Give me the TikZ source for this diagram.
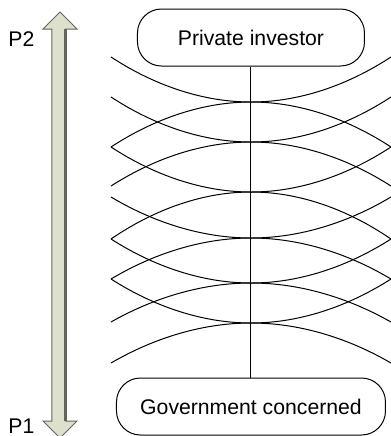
\documentclass[tikz,border=0pt]{standalone}
\usepackage{fontspec}
\setmainfont{Liberation Sans}
\usetikzlibrary{positioning}
\definecolor{scaleFill}{RGB}{221,224,205}
\definecolor{scaleEdge}{RGB}{100,101,92}

\begin{document}
\begin{tikzpicture}[x=0.5pt,y=-0.5pt,
        party/.style={draw, line width=0.5pt, rounded corners=12pt, minimum height=28.5pt, inner sep=0pt, font=\fontsize{10.6}{12.7}\selectfont},
        tag/.style={inner sep=0pt, font=\fontsize{10.6}{12.7}\selectfont},
        band/.style={line width=0.5pt}]
            \useasboundingbox (0,0) rectangle (391,436);
            \node[party, minimum width=113.5pt] (inv) at (251,37.5) {Private investor};
            \node[party, minimum width=134.5pt] (gov) at (251,406.5) {Government concerned};
            \draw[line width=0.5pt] (inv.south) -- (gov.north);

            \draw[band] (111,57) parabola bend (251,102) (391,57);
            \draw[band] (111,97) parabola bend (251,142) (391,97);
            \draw[band] (111,147) parabola bend (251,192) (391,147);
            \draw[band] (111,197) parabola bend (251,238) (391,197);
            \draw[band] (111,239) parabola bend (251,283) (391,239);
            \draw[band] (111,279) parabola bend (251,323) (391,279);

            \draw[band] (111,147) parabola bend (251,102) (391,147);
            \draw[band] (111,186) parabola bend (251,142) (391,186);
            \draw[band] (111,239) parabola bend (251,192) (391,239);
            \draw[band] (111,279) parabola bend (251,238) (391,279);
            \draw[band] (111,322) parabola bend (251,283) (391,322);
            \draw[band] (111,363) parabola bend (251,323) (391,363);

            \draw[fill=scaleFill, draw=scaleEdge, line width=0.5pt] (60,12) -- (77,29) -- (66,29) -- (66,421) -- (77,421) -- (60,438) -- (43,421) -- (52,421) -- (52,29) -- (43,29) -- cycle;
            \draw[scaleEdge, line width=1.1pt] (65.5,29) -- (65.5,421);
            \node[tag, anchor=west] (p2) at (8,39) {P2};
            \node[tag, anchor=west] (p1) at (8,426) {P1};
        \end{tikzpicture}
\end{document}
